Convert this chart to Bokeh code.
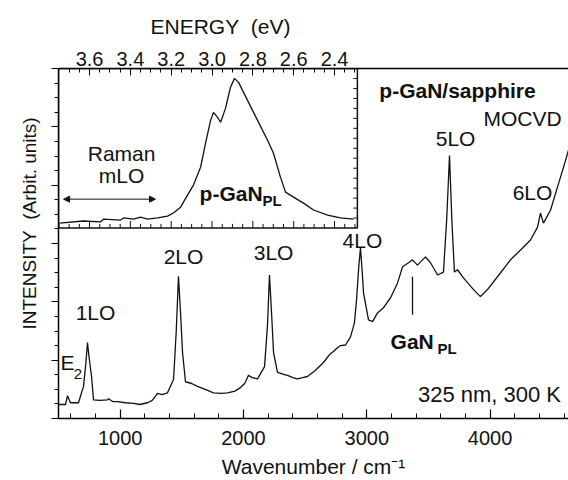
import numpy as np
from bokeh.plotting import figure
from bokeh.models import (Range1d, LinearAxis, FixedTicker, SingleIntervalTicker,
                          Title, Arrow, NormalHead, PrintfTickFormatter)
from bokeh.core.properties import value
from bokeh.embed import file_html
from bokeh.resources import INLINE

FONT = "Liberation Sans"
INK = "#111111"

# ---- main spectrum (Raman shift, cm^-1 ; intensity arb.) ----
wavenumber = [500, 557, 573, 597, 662, 703, 722, 735, 748, 768, 784, 840, 897, 905, 940,
              979, 1040, 1108, 1160, 1222, 1260, 1303, 1340, 1384, 1433, 1455, 1473, 1490,
              1506, 1530, 1580, 1627, 1700, 1757, 1820, 1871, 1930, 1976, 2010, 2041, 2070,
              2114, 2171, 2195, 2211, 2228, 2244, 2276, 2320, 2357, 2400, 2438, 2480, 2519,
              2580, 2649, 2700, 2730, 2760, 2787, 2828, 2868, 2900, 2917, 2935, 2949, 2962,
              2974, 3014, 3047, 3087, 3136, 3193, 3249, 3290, 3339, 3371, 3411, 3476, 3517,
              3574, 3622, 3648, 3671, 3690, 3711, 3736, 3784, 3866, 3922, 3979, 4060, 4166,
              4247, 4328, 4385, 4409, 4433, 4490, 4547, 4596, 4636]
intensity = [0.24, 0.24, 0.39, 0.27, 0.27, 0.55, 0.95, 1.30, 1.05, 0.72, 0.32, 0.31, 0.32,
             0.34, 0.29, 0.29, 0.27, 0.26, 0.24, 0.27, 0.31, 0.43, 0.41, 0.44, 0.67, 1.50,
             2.44, 1.80, 1.13, 0.63, 0.60, 0.55, 0.49, 0.44, 0.43, 0.44, 0.47, 0.53, 0.60,
             0.74, 0.70, 0.68, 0.89, 1.60, 2.46, 1.80, 1.13, 0.79, 0.76, 0.74, 0.70, 0.68,
             0.70, 0.72, 0.82, 0.96, 1.10, 1.15, 1.21, 1.25, 1.26, 1.40, 1.64, 2.03, 2.60,
             2.92, 2.55, 2.15, 1.69, 1.66, 1.81, 1.90, 2.07, 2.32, 2.60, 2.67, 2.72, 2.63,
             2.77, 2.67, 2.46, 2.51, 3.40, 4.51, 3.40, 2.51, 2.55, 2.41, 2.21, 2.09, 2.21,
             2.43, 2.72, 2.89, 3.06, 3.28, 3.52, 3.35, 3.57, 3.97, 4.31, 4.60]

# ---- inset PL spectrum (energy eV ; normalised intensity) ----
energy = [3.747, 3.629, 3.546, 3.531, 3.448, 3.433, 3.385, 3.350, 3.316, 3.267, 3.218,
          3.189, 3.154, 3.120, 3.091, 3.056, 3.032, 3.007, 2.993, 2.973, 2.958, 2.934,
          2.910, 2.890, 2.870, 2.826, 2.777, 2.728, 2.699, 2.665, 2.640, 2.601, 2.552,
          2.503, 2.434, 2.371, 2.307]
pl = [0.031, 0.044, 0.038, 0.056, 0.050, 0.063, 0.056, 0.069, 0.056, 0.063, 0.075,
      0.094, 0.131, 0.206, 0.269, 0.381, 0.531, 0.675, 0.725, 0.694, 0.663, 0.750,
      0.881, 0.938, 0.913, 0.800, 0.675, 0.550, 0.469, 0.319, 0.225, 0.194, 0.156,
      0.113, 0.081, 0.063, 0.056]

energy_ticks = [3.6, 3.4, 3.2, 3.0, 2.8, 2.6, 2.4]

peak_labels = ["1LO", "2LO", "3LO", "4LO", "5LO", "6LO", "MOCVD"]
peak_label_x = [800, 1514, 2244, 2965, 3720, 4344, 4263]
peak_label_y = [1.81, 2.77, 2.84, 3.06, 4.80, 3.88, 5.15]

p = figure(width=568, height=480, output_backend="svg", toolbar_location=None,
           x_range=Range1d(500, 4636), y_range=Range1d(0, 6),
           min_border_left=58, min_border_right=0, min_border_top=68, min_border_bottom=61,
           x_axis_location=None, y_axis_location=None)
p.outline_line_color = None
p.grid.visible = False
p.background_fill_color = "white"
p.border_fill_color = "white"

p.extra_x_ranges = {"en": Range1d(3.752, 1.254)}
p.extra_y_ranges = {"ins": Range1d(-1.194, 1.0)}

# bottom axis
xax = LinearAxis(ticker=SingleIntervalTicker(interval=1000, num_minor_ticks=5))
xax.major_tick_in = 9; xax.major_tick_out = 0
xax.minor_tick_in = 5; xax.minor_tick_out = 0
xax.axis_line_width = 1.5
xax.major_tick_line_width = 1.2
xax.major_label_text_font = FONT
xax.major_label_text_font_size = "20px"
xax.major_label_text_line_height = 1.0
xax.major_label_text_color = INK
xax.major_label_standoff = 12
xax.axis_label = "Wavenumber / cm\u207b\u00b9"
xax.axis_label_text_font = FONT
xax.axis_label_text_font_size = "21px"
xax.axis_label_text_line_height = 1.0
xax.axis_label_text_font_style = "normal"
xax.axis_label_text_color = INK
xax.axis_label_standoff = 7
p.add_layout(xax, "below")

# left axis (ticks only)
yax = LinearAxis(ticker=SingleIntervalTicker(interval=1, num_minor_ticks=4))
yax.major_tick_in = 0; yax.major_tick_out = 7
yax.minor_tick_in = 0; yax.minor_tick_out = 4
yax.axis_line_width = 1.5
yax.major_label_text_color = None
yax.major_label_text_font_size = "2px"
yax.major_label_standoff = 0
p.add_layout(yax, "left")
p.add_layout(Title(text="INTENSITY\u00a0 (Arbit. units)", align="left", offset=89,
                   text_font=FONT, text_font_size="19px", text_font_style="normal",
                   text_color=INK, standoff=24), "left")

# top energy axis
tax = LinearAxis(x_range_name="en",
                 ticker=FixedTicker(ticks=energy_ticks,
                                    minor_ticks=list(np.round(np.arange(3.75, 2.29, -0.05), 3))),
                 formatter=PrintfTickFormatter(format="%.1f"))
tax.major_tick_in = 7; tax.major_tick_out = 0
tax.minor_tick_in = 4; tax.minor_tick_out = 0
tax.axis_line_width = 1.5
tax.major_label_text_font = FONT
tax.major_label_text_font_size = "20px"
tax.major_label_text_color = INK
tax.major_label_standoff = 3
p.add_layout(tax, "above")
p.add_layout(Title(text="ENERGY\u00a0 (eV)", align="left", offset=92,
                   text_font=FONT, text_font_size="21px", text_font_style="normal",
                   text_color=INK, standoff=22), "above")

# main curve
p.line(wavenumber, intensity, line_color=INK, line_width=1.3)

# inset box
p.quad(left=[3.752], right=[2.288], bottom=[0], top=[1.0], x_range_name="en",
       y_range_name="ins", fill_color="white", line_color=INK, line_width=1.5)
# inset ticks: bottom (pointing up) and right (pointing left)
mt = np.round(np.arange(3.75, 2.29, -0.05), 3)
tick_len = [0.044 if any(abs(m - t) < 1e-6 for t in energy_ticks) else 0.026 for m in mt]
p.segment(x0=mt, y0=np.zeros(len(mt)), x1=mt, y1=tick_len, x_range_name="en",
          y_range_name="ins", line_color=INK, line_width=1)
ry = np.arange(1, 16) / 16
p.segment(x0=np.full(len(ry), 2.288), y0=ry, x1=np.full(len(ry), 2.308), y1=ry,
          x_range_name="en", y_range_name="ins", line_color=INK, line_width=1)
p.line(energy, pl, x_range_name="en", y_range_name="ins", line_color=INK, line_width=1.3)

# inset texts
p.text(x=[3.443, 3.443], y=[0.469, 0.331], text=["Raman", "mLO"], x_range_name="en",
       y_range_name="ins", text_font=value(FONT), text_font_size="21px",
       text_align="center", text_baseline="middle", text_color=INK)
p.add_layout(Arrow(start=NormalHead(size=6, fill_color=INK, line_color=INK),
                   end=NormalHead(size=6, fill_color=INK, line_color=INK),
                   x_start=3.727, y_start=0.181, x_end=3.277, y_end=0.181,
                   x_range_name="en", y_range_name="ins", line_width=1, line_color=INK))
p.text(x=[3.061], y=[0.219], text=["p-GaN"], x_range_name="en", y_range_name="ins",
       text_font=value(FONT), text_font_size="21px", text_font_style="bold",
       text_align="left", text_baseline="middle", text_color=INK)
p.text(x=[2.753], y=[0.175], text=["PL"], x_range_name="en", y_range_name="ins",
       text_font=value(FONT), text_font_size="15px", text_font_style="bold",
       text_align="left", text_baseline="middle", text_color=INK)

# main texts
p.text(x=peak_label_x, y=peak_label_y, text=peak_labels, text_font=value(FONT),
       text_font_size="21px", text_align="center", text_baseline="middle", text_color=INK)
p.text(x=[3736], y=[5.62], text=["p-GaN/sapphire"], text_font=value(FONT),
       text_font_size="21px", text_font_style="bold", text_align="center",
       text_baseline="middle", text_color=INK)
p.text(x=[516], y=[0.96], text=["E"], text_font=value(FONT), text_font_size="21px",
       text_align="left", text_baseline="middle", text_color=INK)
p.text(x=[624], y=[0.76], text=["2"], text_font=value(FONT), text_font_size="15px",
       text_align="left", text_baseline="middle", text_color=INK)
p.text(x=[3193], y=[1.32], text=["GaN"], text_font=value(FONT), text_font_size="21px",
       text_font_style="bold", text_align="left", text_baseline="middle", text_color=INK)
p.text(x=[3574], y=[1.20], text=["PL"], text_font=value(FONT), text_font_size="15px",
       text_font_style="bold", text_align="left", text_baseline="middle", text_color=INK)
p.segment(x0=[3371], y0=[1.78], x1=[3371], y1=[2.43], line_color=INK, line_width=1.3)
p.text(x=[3995], y=[0.41], text=["325 nm, 300 K"], text_font=value(FONT),
       text_font_size="22px", text_align="center", text_baseline="middle", text_color=INK)

open("out.html", "w").write(file_html(p, INLINE))
